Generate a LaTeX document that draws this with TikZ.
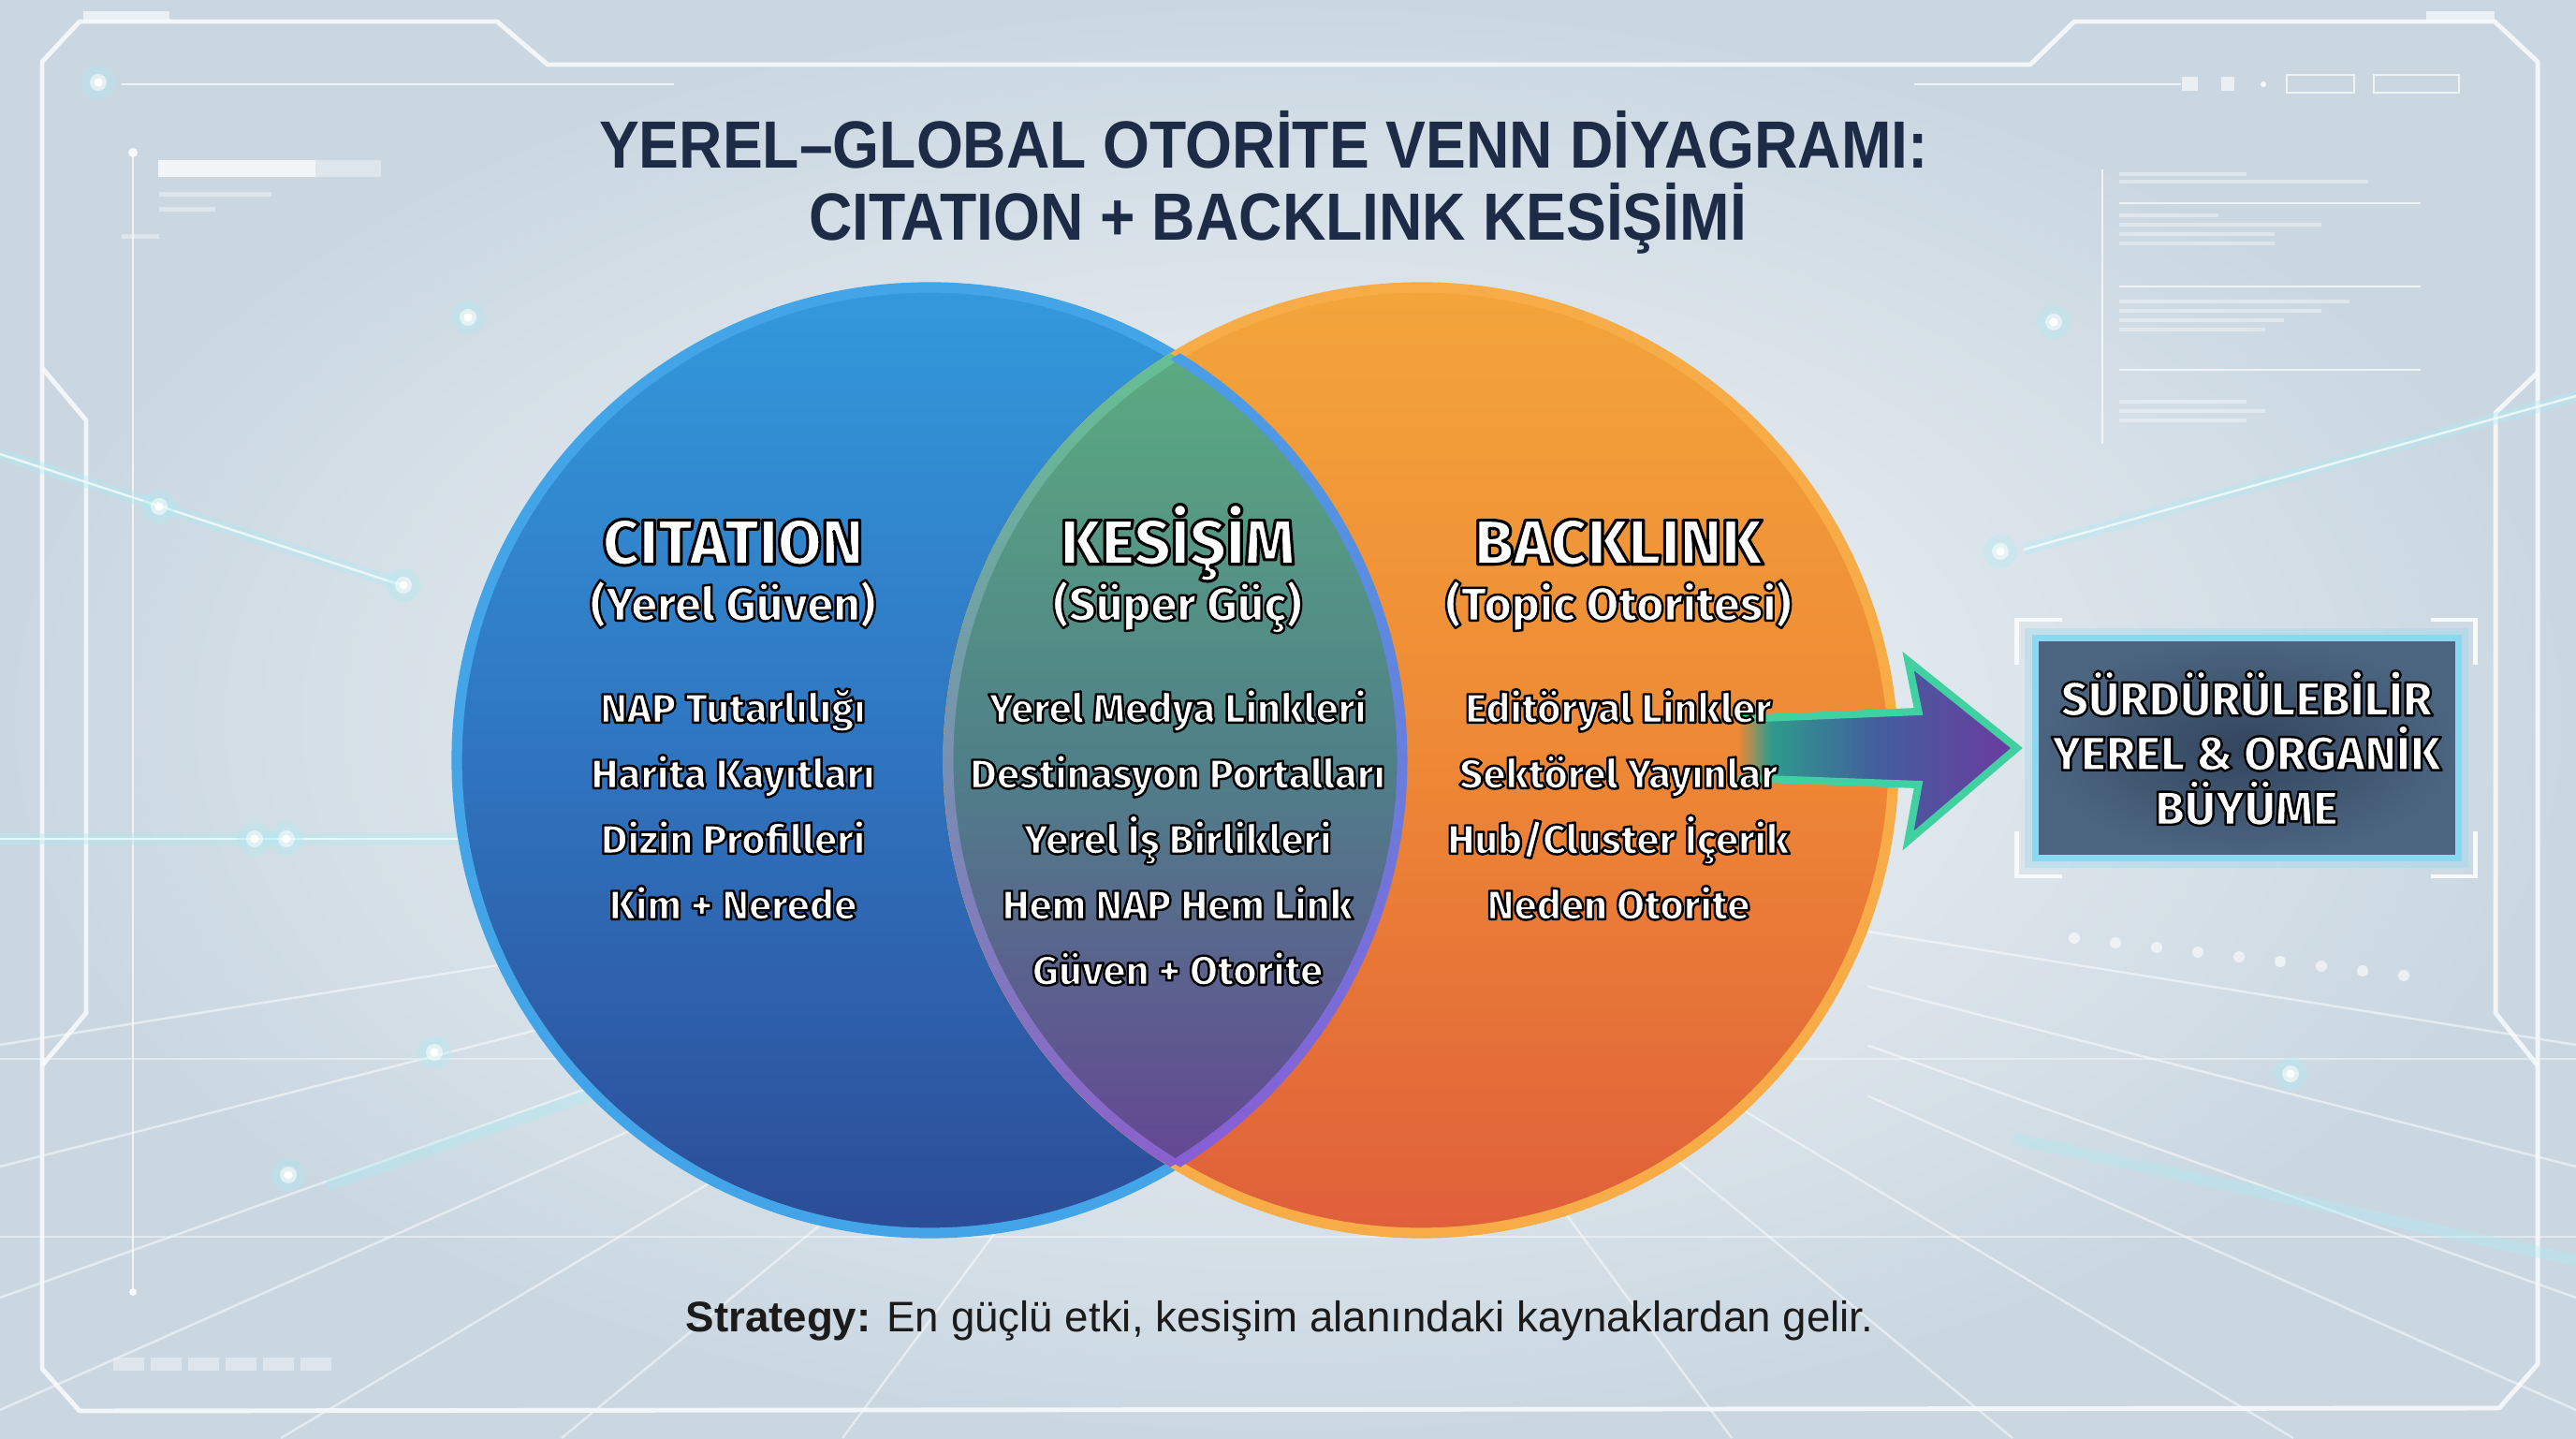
\documentclass[tikz,border=0pt]{standalone}
\usepackage{fontspec}
\setmainfont{Liberation Sans}
\newfontfamily\vennfont[FakeStretch=0.9]{Liberation Sans}
\newfontfamily\heavyfont{Fira Sans ExtraBold}
\usetikzlibrary{positioning,calc,shadings}

% colours
\definecolor{bgin}{HTML}{F5F7F9}
\definecolor{bgout}{HTML}{CAD7E1}
\definecolor{frameline}{HTML}{F7FAFC}
\definecolor{glowcyan}{HTML}{A8EEF4}
\definecolor{titlenavy}{HTML}{1D2B47}
\definecolor{citetop}{HTML}{3399DC}
\definecolor{citemid}{HTML}{2F74BF}
\definecolor{citebot}{HTML}{2C4C97}
\definecolor{citerim}{HTML}{43A4E8}
\definecolor{backtop}{HTML}{F3A53B}
\definecolor{backmid}{HTML}{EE8835}
\definecolor{backbot}{HTML}{DF5F3A}
\definecolor{backrim}{HTML}{F8AC48}
\definecolor{lenstop}{HTML}{5DB17F}
\definecolor{lensmid}{HTML}{4F8088}
\definecolor{lensbot}{HTML}{683D94}
\definecolor{lensgreen}{HTML}{62C88E}
\definecolor{lensrim}{HTML}{8E58D2}
\definecolor{arrowrim}{HTML}{41D0A1}
\definecolor{arrowteal}{HTML}{2E9A8D}
\definecolor{arrowblue}{HTML}{435E9D}
\definecolor{arrowpurple}{HTML}{6C3AA0}
\definecolor{boxin}{HTML}{33455D}
\definecolor{boxout}{HTML}{4B6581}
\definecolor{boxrim}{HTML}{88D9F1}
\definecolor{strategyink}{HTML}{1B1B1B}

\pgfdeclarehorizontalshading{arrowfill}{100bp}{%
  color(0bp)=(backmid); color(25bp)=(backmid); color(31bp)=(arrowteal);
  color(50bp)=(arrowblue); color(75bp)=(arrowpurple); color(100bp)=(arrowpurple)}

\newcommand{\vennr}{5.05}
% white letters with a dark stroke round them
\newcommand{\outl}[2][0.7]{\special{pdf:literal direct 0 0 0 RG #1 w 1 j 2 Tr}#2\special{pdf:literal direct 0 Tr}}

\begin{document}
\begin{tikzpicture}[x=1cm, y=1cm, on grid,
    frame/.style={draw=frameline, line width=1.4pt, opacity=0.9, line join=round},
    thinline/.style={draw=frameline, line width=0.7pt, opacity=0.8},
    faintbar/.style={fill=frameline, opacity=0.45},
    floorline/.style={draw=white, line width=0.7pt, opacity=0.5},
    glowline/.style={draw=glowcyan, line width=3.5pt, opacity=0.35},
    titletext/.style={font=\vennfont\bfseries\fontsize{20.3}{24}\selectfont, text=titlenavy, inner sep=0pt},
    vennhead/.style={font=\heavyfont\fontsize{19.3}{22}\selectfont, text=white, inner sep=0pt,
      text height=0.75em, text depth=0.25em},
    vennsub/.style={font=\heavyfont\fontsize{14.3}{18}\selectfont, text=white, inner sep=0pt,
      text height=0.75em, text depth=0.25em},
    vennitem/.style={font=\heavyfont\fontsize{12.4}{16}\selectfont, text=white, inner sep=0pt,
      text height=0.75em, text depth=0.25em},
    goalbox/.style={rectangle, minimum width=4.52cm, minimum height=2.35cm, inner sep=0pt,
      inner color=boxin, outer color=boxout, draw=boxrim, line width=2pt,
      preaction={draw=boxrim, line width=6pt, opacity=0.3},
      text=white, align=center, font=\heavyfont\fontsize{14.5}{16.6}\selectfont},
    bracketline/.style={draw=frameline, line width=1.3pt},
    arrowedge/.style={draw=arrowrim, line width=2.3pt, line join=miter},
    strategytext/.style={font=\fontsize{13}{16}\selectfont, text=strategyink, inner sep=0pt}
  ]
  \useasboundingbox (0,0) rectangle (27.52,15.36);

  % background
  \shade[inner color=bgin, outer color=bgout] (0,0) rectangle (27.52,15.36);

  % floor lines
  \foreach \sx/\sy in {0/4.2, 0/2.9, 0/1.5, 0/0.3, 3/0, 6/0, 9/0, 18.5/0, 21.5/0, 24.5/0,
                       27.52/0.3, 27.52/1.5, 27.52/2.9, 27.52/4.2}
    \draw[floorline] (\sx,\sy) -- ($(\sx,\sy)!0.55!(13.76,6.4)$);
  \draw[thinline, opacity=0.5] (0,4.05) -- (27.52,4.05);
  \draw[thinline, opacity=0.5] (0,2.15) -- (27.52,2.15);

  % frame
  \draw[frame] (0.45,14.70) -- (0.85,15.13) -- (5.31,15.13) -- (5.85,14.67) -- (21.69,14.67)
    -- (22.16,15.13) -- (26.65,15.13) -- (27.11,14.70) -- (27.11,0.79) -- (26.70,0.32)
    -- (0.85,0.29) -- (0.45,0.74) -- cycle;
  \fill[faintbar, opacity=0.7] (0.89,15.13) rectangle (1.81,15.24);
  \fill[faintbar, opacity=0.7] (25.92,15.13) rectangle (26.65,15.24);
  \draw[frame] (0.45,11.43) -- (0.92,10.87) -- (0.92,4.54) -- (0.45,3.98);
  \draw[frame] (27.11,11.38) -- (26.66,10.95) -- (26.66,4.54) -- (27.11,3.98);

  % left panel
  \draw[thinline] (1.42,13.73) -- (1.42,1.56);
  \fill[frameline] (1.42,13.73) circle (0.05) (1.42,1.56) circle (0.04);
  \draw[thinline] (1.30,14.46) -- (7.20,14.46);
  \fill[faintbar] (1.69,13.47) rectangle (4.07,13.65);
  \fill[white, opacity=0.6] (1.69,13.47) rectangle (3.37,13.65);
  \foreach \ly/\lw in {13.26/2.9, 13.10/2.3, 12.94/1.7, 12.81/1.3}
    \fill[faintbar] (1.70,\ly) rectangle (\lw,{\ly+0.05});
  \foreach \bx in {1.21,1.61,2.01,2.41,2.81,3.21}
    \fill[faintbar] (\bx,0.72) rectangle ({\bx+0.33},0.86);

  % right panel
  \draw[thinline] (20.45,14.46) -- (23.30,14.46);
  \fill[faintbar, opacity=0.7] (23.31,14.39) rectangle (23.48,14.54);
  \fill[faintbar, opacity=0.7] (23.73,14.39) rectangle (23.87,14.54);
  \fill[frameline] (24.18,14.46) circle (0.03);
  \draw[thinline] (24.43,14.37) rectangle (25.15,14.56);
  \draw[thinline] (25.36,14.37) rectangle (26.27,14.56);
  \draw[thinline] (22.46,13.55) -- (22.46,10.62);
  \foreach \ly in {13.19,12.30,11.41}
    \draw[thinline] (22.64,\ly) -- (25.86,\ly);
  \foreach \ly/\lw in {13.48/24.0, 13.40/25.3, 13.04/23.7, 12.94/24.8, 12.84/24.3, 12.74/24.3,
                       12.12/25.1, 12.02/24.8, 11.92/24.4, 11.82/24.2, 11.05/24.0, 10.95/24.2, 10.85/24.0}
    \fill[faintbar] (22.64,\ly) rectangle (\lw,{\ly+0.04});

  % glow lines
  \draw[glowline] (0,10.51) -- (4.29,9.11);
  \draw[thinline] (0,10.51) -- (4.29,9.11);
  \draw[glowline] (0,6.40) -- (7.0,6.40);
  \draw[thinline] (0,6.40) -- (7.0,6.40);
  \draw[glowline] (21.62,9.49) -- (27.52,11.13);
  \draw[thinline] (21.62,9.49) -- (27.52,11.13);
  \draw[glowline] (21.5,3.2) -- (27.52,1.9);
  \draw[glowline] (3.5,2.7) -- (9.0,4.6);

  % glow dots
  \foreach \gx/\gy in {1.05/14.48, 5.00/11.97, 1.70/9.95, 4.31/9.11, 2.72/6.40, 3.06/6.40,
                       4.64/4.12, 3.08/2.81, 21.94/11.92, 21.37/9.47, 24.47/3.89}{
    \fill[glowcyan, opacity=0.3] (\gx,\gy) circle (0.18);
    \fill[white, opacity=0.55] (\gx,\gy) circle (0.09);
    \fill[white] (\gx,\gy) circle (0.045);
  }
  \foreach \i in {0,...,8}
    \fill[white, opacity=0.6] ({22.16+0.44*\i},{5.34-0.05*\i}) circle (0.06);

  % title
  \node[titletext] (title1) at (13.50,13.87) {YEREL–GLOBAL OTORİTE VENN DİYAGRAMI:};
  \node[titletext] (title2) at (13.65,13.03) {CITATION + BACKLINK KESİŞİMİ};

  % venn circles
  \coordinate (citec) at (9.93,7.24);
  \coordinate (backc) at (15.18,7.24);
  \shade[top color=citetop, bottom color=citebot, middle color=citemid] (citec) circle (\vennr);
  \draw[citerim, line width=3.2pt] (citec) circle (\vennr);
  \shade[top color=backtop, bottom color=backbot, middle color=backmid] (backc) circle (\vennr);
  \draw[backrim, line width=3.2pt] (backc) circle (\vennr);

  % intersection
  \begin{scope}
    \clip (citec) circle (\vennr);
    \shade[top color=lenstop, bottom color=lensbot, middle color=lensmid] (backc) circle (\vennr);
    \shade[top color=lensgreen, bottom color=lensrim, even odd rule]
      (backc) circle ({\vennr+0.055}) (backc) circle ({\vennr-0.055});
  \end{scope}
  \begin{scope}
    \clip (backc) circle (\vennr);
    \shade[top color=citerim, bottom color=lensrim, even odd rule]
      (citec) circle ({\vennr+0.055}) (citec) circle ({\vennr-0.055});
  \end{scope}

  % goal box
  \node[goalbox] (goal) at (24.00,7.37)
    {\outl{SÜRDÜRÜLEBİLİR}\\ \outl{YEREL \& ORGANİK}\\ \outl{BÜYÜME}};
  \draw[bracketline] ($(goal.north west)+(-0.16,-0.32)$) -- ++(0,0.48) -- ++(0.48,0);
  \draw[bracketline] ($(goal.north east)+(-0.33,0.16)$) -- ++(0.48,0) -- ++(0,-0.48);
  \draw[bracketline] ($(goal.south west)+(-0.16,0.32)$) -- ++(0,-0.48) -- ++(0.48,0);
  \draw[bracketline] ($(goal.south east)+(-0.33,-0.16)$) -- ++(0.48,0) -- ++(0,0.48);

  % arrow to goal
  \coordinate (arrtip) at ($(goal.west)+(-0.16,0)$);
  \begin{scope}[shift={(arrtip)}]
    \shade[shading=arrowfill] (-2.98,0.31) -- (-1.05,0.39) -- (-1.16,0.93) -- (0,0)
      -- (-1.16,-0.99) -- (-1.05,-0.39) -- (-2.98,-0.32) -- cycle;
    \draw[arrowedge] (-2.98,0.31) -- (-1.05,0.39) -- (-1.16,0.93) -- (0,0)
      -- (-1.16,-0.99) -- (-1.05,-0.39) -- (-2.98,-0.32);
  \end{scope}

  % citation column
  \node[vennhead] (citehead) at (7.83,9.42) {\outl[0.9]{CITATION}};
  \node[vennsub, below=0.60 of citehead] (citesub) {\outl{(Yerel Güven)}};
  \node[vennitem, below=1.09 of citesub] (cite1) {\outl{NAP Tutarlılığı}};
  \node[vennitem, below=0.70 of cite1] (cite2) {\outl{Harita Kayıtları}};
  \node[vennitem, below=0.70 of cite2] (cite3) {\outl{Dizin Profilleri}};
  \node[vennitem, below=0.70 of cite3] (cite4) {\outl{Kim + Nerede}};

  % intersection column
  \node[vennhead] (keshead) at (12.58,9.42) {\outl[0.9]{KESİŞİM}};
  \node[vennsub, below=0.60 of keshead] (kessub) {\outl{(Süper Güç)}};
  \node[vennitem, below=1.09 of kessub] (kes1) {\outl{Yerel Medya Linkleri}};
  \node[vennitem, below=0.70 of kes1] (kes2) {\outl{Destinasyon Portalları}};
  \node[vennitem, below=0.70 of kes2] (kes3) {\outl{Yerel İş Birlikleri}};
  \node[vennitem, below=0.70 of kes3] (kes4) {\outl{Hem NAP Hem Link}};
  \node[vennitem, below=0.70 of kes4] (kes5) {\outl{Güven + Otorite}};

  % backlink column
  \node[vennhead] (backhead) at (17.29,9.42) {\outl[0.9]{BACKLINK}};
  \node[vennsub, below=0.60 of backhead] (backsub) {\outl{(Topic Otoritesi)}};
  \node[vennitem, below=1.09 of backsub] (back1) {\outl{Editöryal Linkler}};
  \node[vennitem, below=0.70 of back1] (back2) {\outl{Sektörel Yayınlar}};
  \node[vennitem, below=0.70 of back2] (back3) {\outl{Hub/Cluster İçerik}};
  \node[vennitem, below=0.70 of back3] (back4) {\outl{Neden Otorite}};

  % strategy line
  \node[strategytext] (strategy) at (13.67,1.25)
    {\textbf{Strategy:} En güçlü etki, kesişim alanındaki kaynaklardan gelir.};
\end{tikzpicture}
\end{document}
